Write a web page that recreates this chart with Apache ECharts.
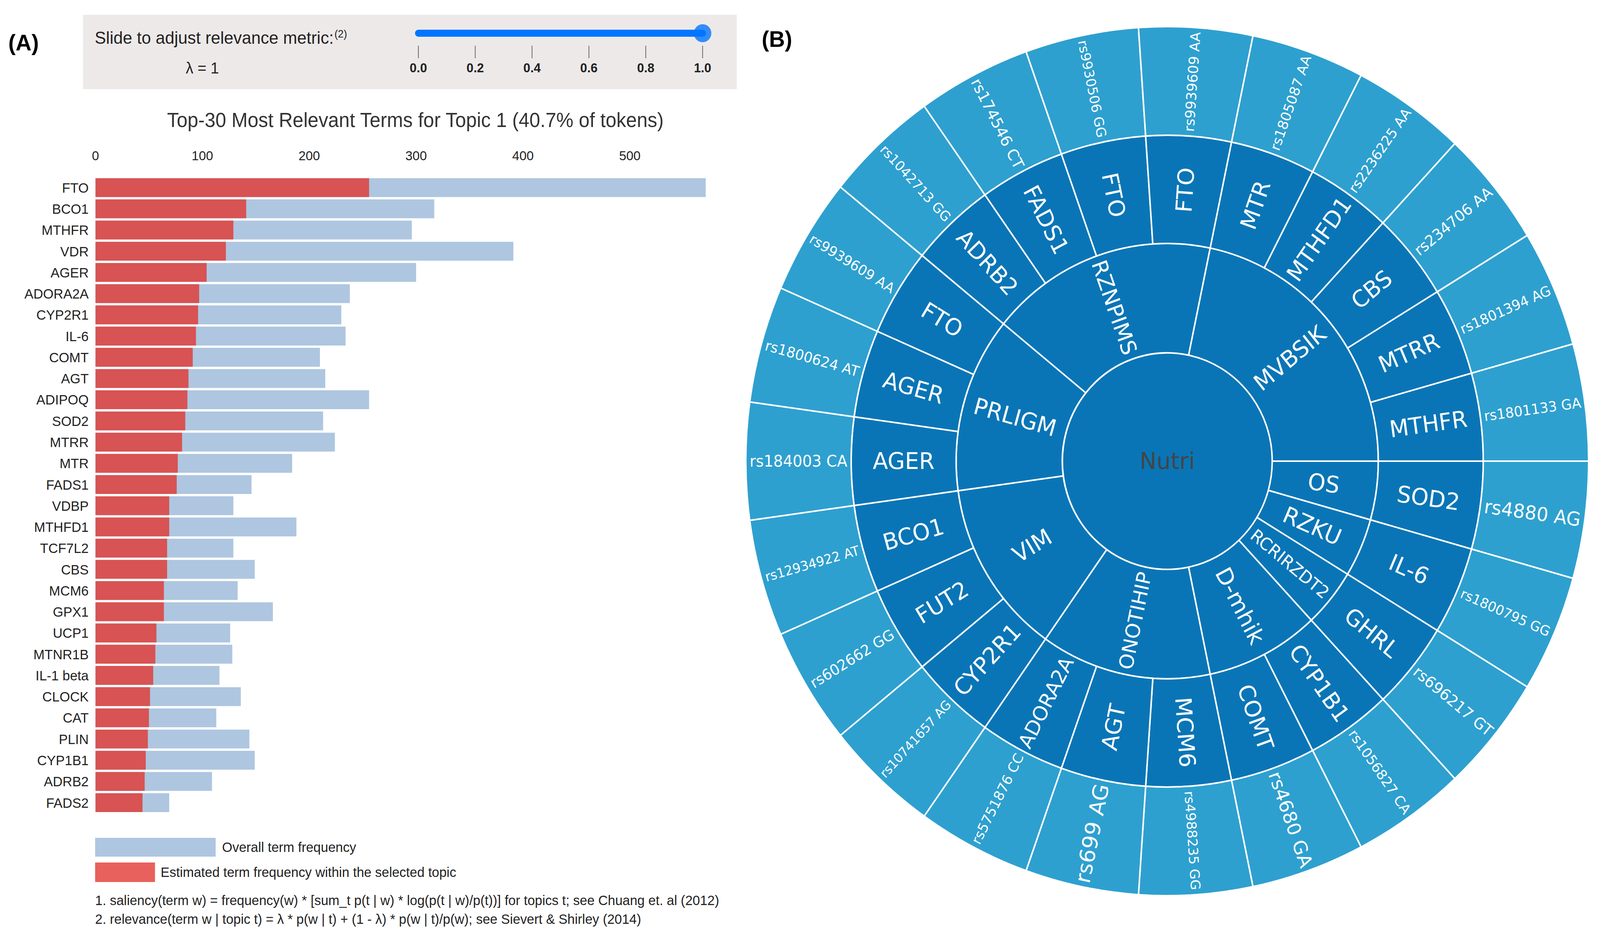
<!DOCTYPE html>
<html lang="en">

<head>
    <meta charset="UTF-8">
    <title>Topic 1 terms and nutrigenetic sunburst</title>
    <style>
        html, body { margin: 0; padding: 0; background: #fff; overflow: hidden; }
        #main { width: 4222px; height: 2390px; transform-origin: 0 0; }
    </style>
</head>

<body>
    <div id="main"></div>
    <script src="https://cdn.jsdelivr.net/npm/echarts@6/dist/echarts.min.js"></script>
    <script type="text/javascript">
        // ---- (A) top-30 terms ----
        var terms = ['FTO', 'BCO1', 'MTHFR', 'VDR', 'AGER', 'ADORA2A', 'CYP2R1', 'IL-6', 'COMT', 'AGT',
            'ADIPOQ', 'SOD2', 'MTRR', 'MTR', 'FADS1', 'VDBP', 'MTHFD1', 'TCF7L2', 'CBS', 'MCM6',
            'GPX1', 'UCP1', 'MTNR1B', 'IL-1 beta', 'CLOCK', 'CAT', 'PLIN', 'CYP1B1', 'ADRB2', 'FADS2'];
        var overallFreq = [571, 317, 296, 391, 300, 238, 230, 234, 210, 215,
            256, 213, 224, 184, 146, 129, 188, 129, 149, 133,
            166, 126, 128, 116, 136, 113, 144, 149, 109, 69];
        var topicFreq = [256, 141, 129, 122, 104, 97, 96, 94, 91, 87,
            86, 84, 81, 77, 76, 69, 69, 67, 67, 64,
            64, 57, 56, 54, 51, 50, 49, 47, 46, 44];
        var freqAxisMax = 580;
        var freqTickStep = 100;

        // relevance slider
        var lambdaRange = [0, 1];
        var lambdaStep = 0.2;
        var lambdaValue = 1;

        // ---- (B) sunburst ----
        var rootName = 'Nutri';
        var groupNames = ['MVBSIK', 'OS', 'RZKU', 'RCRIRZDT2', 'D-mhik', 'ONOTIHIP', 'VIM', 'PRLIGM', 'RZNPIMS'];
        var groupGenes = [
            ['MTR', 'MTHFD1', 'CBS', 'MTRR', 'MTHFR'],
            ['SOD2'],
            ['IL-6'],
            ['GHRL'],
            ['CYP1B1', 'COMT'],
            ['MCM6', 'AGT', 'ADORA2A'],
            ['CYP2R1', 'FUT2', 'BCO1'],
            ['AGER', 'AGER', 'FTO'],
            ['ADRB2', 'FADS1', 'FTO', 'FTO']
        ];
        var geneSnps = [
            ['rs1805087 AA', 'rs2236225 AA', 'rs234706 AA', 'rs1801394 AG', 'rs1801133 GA'],
            ['rs4880 AG'],
            ['rs1800795 GG'],
            ['rs696217 GT'],
            ['rs1056827 CA', 'rs4680 GA'],
            ['rs4988235 GG', 'rs699 AG', 'rs5751876 CC'],
            ['rs10741657 AG', 'rs602662 GG', 'rs12934922 AT'],
            ['rs184003 CA', 'rs1800624 AT', 'rs9939609 AA'],
            ['rs1042713 GG', 'rs174546 CT', 'rs9930506 GG', 'rs9939609 AA']
        ];
        var snpValue = 1;

        var sansA = '"Liberation Sans", Arial, sans-serif';
        var sansB = '"DejaVu Sans", Verdana, sans-serif';
        var darkBlue = '#0a75b6';
        var lightBlue = '#2ea0cf';

        // the figure is laid out on a 4222 x 2390 sheet; fit it to the real viewport
        var sheetW = 4222, sheetH = 2390;
        var box = document.getElementById('main');
        var sx = (window.innerWidth || sheetW) / sheetW;
        var sy = (window.innerHeight || sheetH) / sheetH;
        box.style.transform = 'scale(' + sx + ',' + sy + ')';

        // text fitting for the sunburst rings
        var measureCtx = document.createElement('canvas').getContext('2d');
        measureCtx.font = '100px "DejaVu Sans"';
        function fitFont(text, avail, maxSize) {
            var em = measureCtx.measureText(text).width / 100;
            return Math.min(maxSize, Math.floor(avail / em));
        }

        var ringR = [0, 277, 557, 834, 1112];
        var labelMax = 59;

        var snpTotal = 0;
        var groupsData = groupNames.map(function (g, gi) {
            return {
                name: g,
                itemStyle: { color: darkBlue },
                label: { fontSize: fitFont(g, ringR[2] - ringR[1] - 24, labelMax) },
                children: groupGenes[gi].map(function (gene, ki) {
                    var snp = geneSnps[gi][ki];
                    snpTotal += snpValue;
                    return {
                        name: gene,
                        itemStyle: { color: darkBlue },
                        label: { fontSize: fitFont(gene, ringR[3] - ringR[2] - 22, labelMax) },
                        children: [{
                            name: snp,
                            value: snpValue,
                            itemStyle: { color: lightBlue },
                            label: { fontSize: fitFont(snp, ringR[4] - ringR[3] - 20, labelMax) }
                        }]
                    };
                })
            };
        });
        var unitDeg = 360 / snpTotal;

        var myChart = echarts.init(box, null, { renderer: 'svg', width: sheetW, height: sheetH });

        var option = {
            backgroundColor: '#fff',
            animation: false,
            textStyle: { fontFamily: sansA },
            grid: [{
                left: 252, top: 453, width: freqAxisMax * 2.82, height: 1628,
                containLabel: false, outerBoundsMode: 'none'
            }, {
                left: 1104, top: 53, width: 750, height: 64,
                containLabel: false, outerBoundsMode: 'none'
            }],
            xAxis: [{
                gridIndex: 0,
                type: 'value',
                position: 'top',
                min: 0,
                max: freqAxisMax,
                interval: freqTickStep,
                axisLine: { show: false },
                axisTick: { show: false },
                splitLine: { show: false },
                axisLabel: {
                    margin: 38, fontSize: 34, color: '#222', fontFamily: sansA,
                    formatter: function (v) { return v % freqTickStep === 0 ? String(v) : ''; }
                }
            }, {
                gridIndex: 1,
                type: 'value',
                position: 'bottom',
                min: lambdaRange[0],
                max: lambdaRange[1],
                interval: lambdaStep,
                axisLine: { show: false },
                axisTick: { show: true, length: 32, lineStyle: { color: '#666', width: 2 } },
                splitLine: { show: false },
                axisLabel: {
                    margin: 40, fontSize: 33, fontWeight: 'bold', color: '#222', fontFamily: sansA,
                    formatter: function (v) { return v.toFixed(1); }
                }
            }],
            yAxis: [{
                gridIndex: 0,
                type: 'category',
                inverse: true,
                data: terms,
                axisLine: { show: false },
                axisTick: { show: false },
                axisLabel: { margin: 18, fontSize: 35.5, color: '#222', fontFamily: sansA }
            }, {
                gridIndex: 1,
                type: 'value',
                min: 0,
                max: 2,
                show: false
            }],
            legend: [{
                left: 251, top: 2144, padding: 0,
                icon: 'rect', itemWidth: 318, itemHeight: 48,
                selectedMode: false,
                data: ['Overall term frequency'],
                textStyle: { fontSize: 35, color: '#222', fontFamily: sansA, padding: [0, 0, 0, 12] }
            }, {
                left: 251, top: 2207, padding: 0,
                icon: 'rect', itemWidth: 158, itemHeight: 50,
                selectedMode: false,
                data: [{ name: 'Estimated term frequency within the selected topic', itemStyle: { color: '#e8615c' } }],
                textStyle: { fontSize: 35, color: '#222', fontFamily: sansA, padding: [0, 0, 0, 10] }
            }],
            graphic: [
                { type: 'rect', z: -10, shape: { x: 219, y: 38, width: 1725, height: 190 }, style: { fill: '#ede9e9' } },
                { type: 'text', x: 22, y: 109, style: { text: '(A)', fontSize: 58, fontWeight: 'bold', fontFamily: sansA, fill: '#000', verticalAlign: 'middle' } },
                { type: 'text', x: 2010, y: 100, style: { text: '(B)', fontSize: 58, fontWeight: 'bold', fontFamily: sansA, fill: '#000', verticalAlign: 'middle' } },
                {
                    type: 'text', x: 250, y: 96, style: {
                        text: '{m|Slide to adjust relevance metric:}{s|(2)}',
                        verticalAlign: 'middle',
                        rich: {
                            m: { fontSize: 44.5, fontFamily: sansA, fill: '#222', color: '#222' },
                            s: { fontSize: 27, fontFamily: sansA, fill: '#222', color: '#222', verticalAlign: 'top', padding: [0, 0, 14, 2] }
                        }
                    }
                },
                { type: 'text', x: 534, y: 174, style: { text: 'λ = ' + lambdaValue, fontSize: 40, fontFamily: sansA, fill: '#222', align: 'center', verticalAlign: 'middle' } },
                { type: 'text', x: 1096, y: 308, style: { text: 'Top-30 Most Relevant Terms for Topic 1 (40.7% of tokens)', fontSize: 51, fontFamily: sansA, fill: '#333', align: 'center', verticalAlign: 'middle' } },
                { type: 'text', x: 251, y: 2304, style: { text: '1. saliency(term w) = frequency(w) * [sum_t p(t | w) * log(p(t | w)/p(t))] for topics t; see Chuang et. al (2012)', fontSize: 35, fontFamily: sansA, fill: '#222', verticalAlign: 'middle' } },
                { type: 'text', x: 251, y: 2352, style: { text: '2. relevance(term w | topic t) = λ * p(w | t) + (1 - λ) * p(w | t)/p(w); see Sievert & Shirley (2014)', fontSize: 35, fontFamily: sansA, fill: '#222', verticalAlign: 'middle' } }
            ],
            series: [{
                name: 'Overall term frequency',
                type: 'bar',
                xAxisIndex: 0, yAxisIndex: 0,
                data: overallFreq,
                barCategoryGap: '11%',
                barGap: '-100%',
                itemStyle: { color: '#aec6e0' },
                silent: true
            }, {
                name: 'Estimated term frequency within the selected topic',
                type: 'bar',
                xAxisIndex: 0, yAxisIndex: 0,
                data: topicFreq,
                barCategoryGap: '11%',
                barGap: '-100%',
                itemStyle: { color: '#d85353' },
                silent: true
            }, {
                name: 'slider track',
                type: 'line',
                xAxisIndex: 1, yAxisIndex: 1,
                data: [[lambdaRange[0], 1], [lambdaValue, 1]],
                symbol: 'none',
                lineStyle: { color: '#0075ff', width: 18, cap: 'round' },
                silent: true
            }, {
                name: 'slider knob',
                type: 'scatter',
                xAxisIndex: 1, yAxisIndex: 1,
                data: [[lambdaValue, 1]],
                symbolSize: 46,
                itemStyle: { color: '#0075ff' },
                silent: true
            }, {
                type: 'sunburst',
                center: [3080, 1180],
                radius: [0, ringR[4]],
                startAngle: geneSnps[0].length * unitDeg,
                sort: null,
                nodeClick: false,
                silent: true,
                emphasis: { focus: 'none' },
                itemStyle: { borderColor: '#fff', borderWidth: 4 },
                label: { color: '#fff', fontFamily: sansB, rotate: 'radial' },
                levels: [{}, {
                    r0: ringR[0], r: ringR[1],
                    itemStyle: { color: darkBlue },
                    label: { rotate: 0, color: '#444', fontSize: labelMax }
                }, {
                    r0: ringR[1], r: ringR[2]
                }, {
                    r0: ringR[2], r: ringR[3]
                }, {
                    r0: ringR[3], r: ringR[4]
                }],
                data: [{
                    name: rootName,
                    itemStyle: { color: darkBlue },
                    children: groupsData
                }]
            }]
        };
        myChart.setOption(option);
    </script>

</body>

</html>
